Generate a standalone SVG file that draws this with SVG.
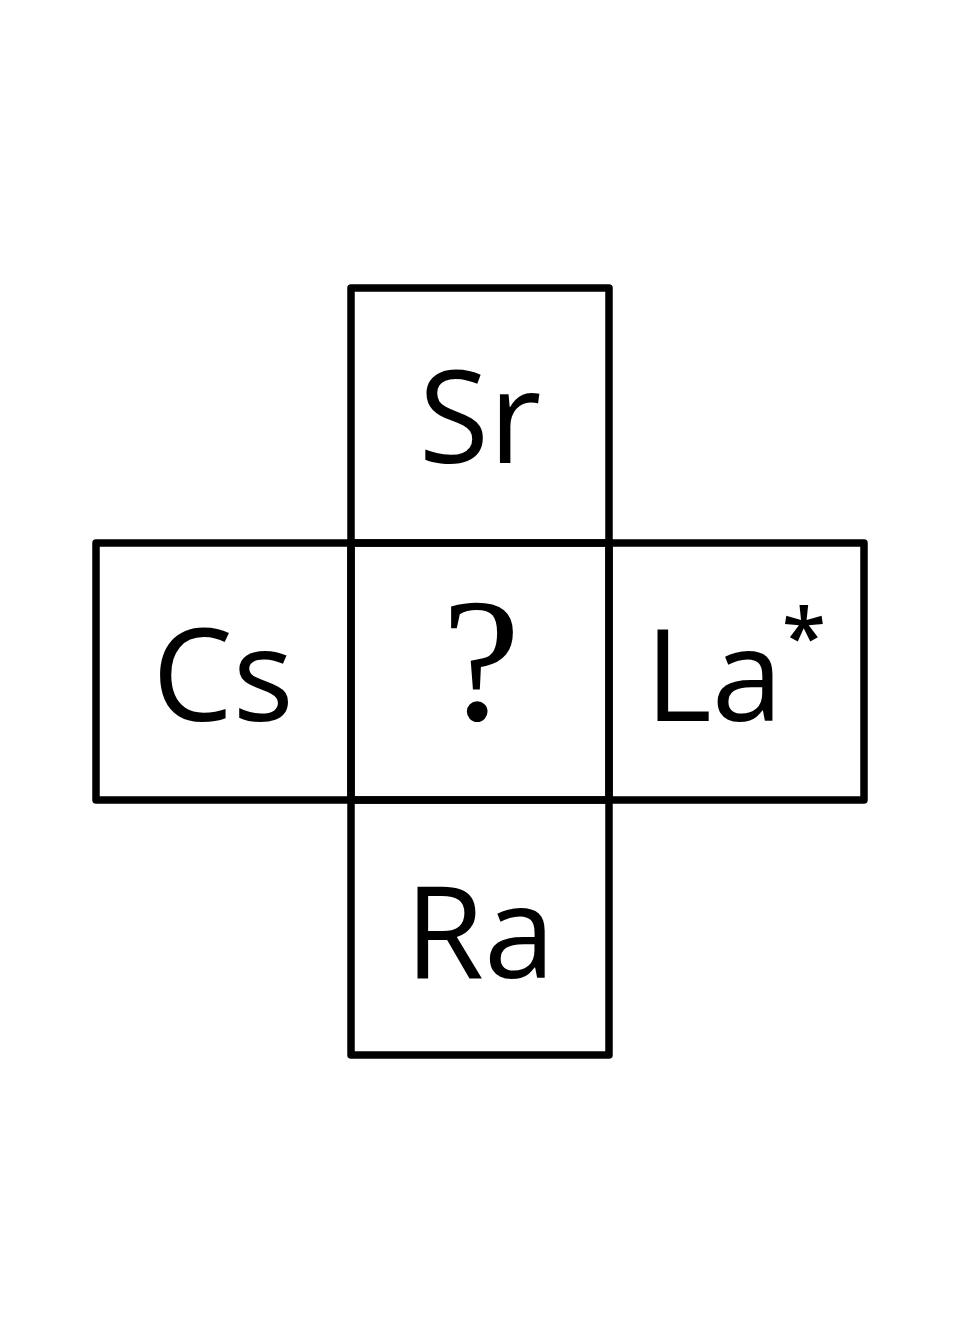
<svg xmlns="http://www.w3.org/2000/svg" width="960" height="1344" viewBox="0 0 960 1344">
<style>
.box{fill:none;stroke:#000;stroke-width:7.5;stroke-linejoin:round}
.lbl{font-family:"Open Sans","Liberation Sans",sans-serif;font-size:128px;fill:#000;text-anchor:middle}
.q{font-family:"Liberation Serif",serif;font-size:176px;fill:#000;text-anchor:middle}
.sup{font-family:"Open Sans","Liberation Sans",sans-serif;font-size:80px;font-weight:600;fill:#000}
</style>
<rect width="960" height="1344" fill="#fff"/>
<g id="node-sr"><rect class="box" x="351" y="288" width="258" height="255"/><text class="lbl" x="480" y="463">Sr</text></g>
<g id="node-cs"><rect class="box" x="96" y="543" width="255" height="257"/><text class="lbl" x="223" y="721">Cs</text></g>
<g id="node-center"><rect class="box" x="351" y="543" width="258" height="257"/><text class="q" x="481" y="720">?</text></g>
<g id="node-la"><rect class="box" x="609" y="543" width="255" height="257"/><text class="lbl" x="714" y="721">La</text><text class="sup" x="782" y="666">*</text></g>
<g id="node-ra"><rect class="box" x="351" y="800" width="258" height="255"/><text class="lbl" x="480" y="978">Ra</text></g>
<g id="connectors"/>
</svg>
